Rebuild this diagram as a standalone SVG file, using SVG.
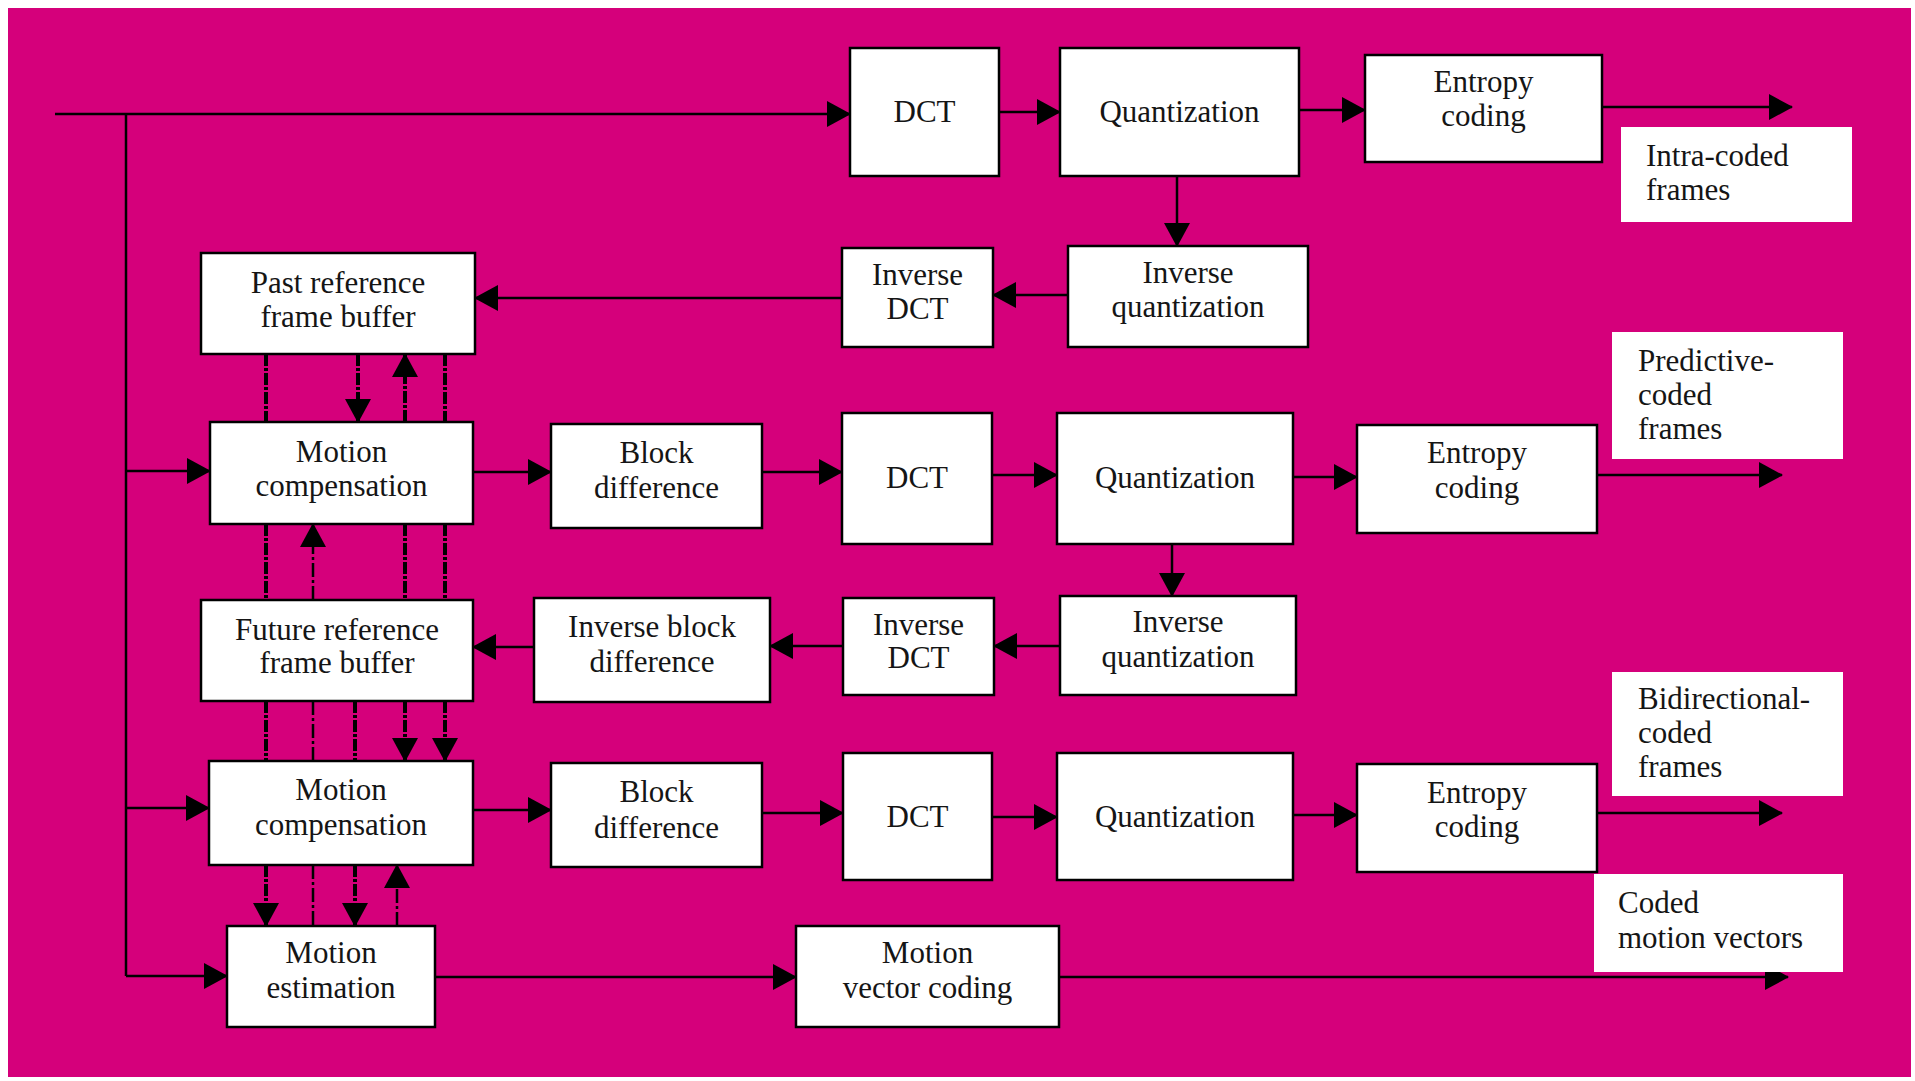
<svg xmlns="http://www.w3.org/2000/svg" width="1915" height="1081" viewBox="0 0 1915 1081">
  <defs>
    <marker id="arrow" markerUnits="userSpaceOnUse" markerWidth="24" markerHeight="26" viewBox="0 0 24 26" refX="23" refY="13" orient="auto">
      <path d="M0,0 L24,13 L0,26 z" fill="#000"/>
    </marker>
    <style>
      .box { fill: #fff; stroke: #000; stroke-width: 2.5; }
      .tag { fill: #fff; stroke: none; }
      .conn { fill: none; stroke: #000; stroke-width: 2.5; }
      .dd { fill: none; stroke: #000; stroke-width: 4; stroke-dasharray: 12 2 3 2; }
      .dt { fill: none; stroke: #000; stroke-width: 2.5; stroke-dasharray: 14 3 3 3; }
      .arr { marker-end: url(#arrow); }
      text { font-family: "Liberation Serif", "Times New Roman", serif; font-size: 31px; fill: #151515; }
      .c { text-anchor: middle; }
    </style>
  </defs>

  <!-- page -->
  <rect x="0" y="0" width="1915" height="1081" fill="#fff"/>
  <rect x="8" y="8" width="1903" height="1069" fill="#d5007b"/>

  <!-- connectors -->
  <g id="connectors">
    <!-- input bus -->
    <path class="conn arr" d="M55,114 H850"/>
    <path class="conn" d="M126,114 V976"/>
    <path class="conn arr" d="M126,471 H210"/>
    <path class="conn arr" d="M126,808 H209"/>
    <path class="conn arr" d="M126,976 H227"/>

    <!-- intra path -->
    <path class="conn arr" d="M999,112 H1060"/>
    <path class="conn arr" d="M1299,110 H1365"/>
    <path class="conn arr" d="M1602,107 H1792"/>
    <path class="conn arr" d="M1177,176 V246"/>
    <path class="conn arr" d="M1068,295 H993"/>
    <path class="conn arr" d="M842,298 H475"/>

    <!-- predictive path -->
    <path class="conn arr" d="M473,472 H551"/>
    <path class="conn arr" d="M762,472 H842"/>
    <path class="conn arr" d="M992,475 H1057"/>
    <path class="conn arr" d="M1293,477 H1357"/>
    <path class="conn arr" d="M1597,475 H1782"/>
    <path class="conn arr" d="M1172,544 V596"/>
    <path class="conn arr" d="M1060,646 H994"/>
    <path class="conn arr" d="M843,646 H770"/>
    <path class="conn arr" d="M534,647 H473"/>

    <!-- bidirectional path -->
    <path class="conn arr" d="M473,810 H551"/>
    <path class="conn arr" d="M762,813 H843"/>
    <path class="conn arr" d="M992,817 H1057"/>
    <path class="conn arr" d="M1293,815 H1357"/>
    <path class="conn arr" d="M1597,813 H1782"/>

    <!-- motion vectors -->
    <path class="conn arr" d="M435,977 H796"/>
    <path class="conn arr" d="M1059,977 H1788"/>

    <!-- past buffer <-> motion compensation (P) -->
    <path class="dd" d="M266,354 V422"/>
    <path class="dd arr" d="M358,354 V422"/>
    <path class="dd arr" d="M405,422 V354"/>
    <path class="dd" d="M445,354 V422"/>

    <!-- motion compensation (P) <-> future buffer -->
    <path class="dd" d="M266,524 V600"/>
    <path class="dt arr" d="M313,600 V524"/>
    <path class="dd" d="M405,524 V600"/>
    <path class="dd" d="M445,524 V600"/>

    <!-- future buffer -> motion compensation (B) -->
    <path class="dd" d="M266,701 V761"/>
    <path class="dt" d="M313,701 V761"/>
    <path class="dd" d="M355,701 V761"/>
    <path class="dd arr" d="M405,701 V761"/>
    <path class="dd arr" d="M445,701 V761"/>

    <!-- motion compensation (B) <-> motion estimation -->
    <path class="dd arr" d="M266,865 V926"/>
    <path class="dt" d="M313,865 V926"/>
    <path class="dd arr" d="M355,865 V926"/>
    <path class="dt arr" d="M397,926 V865"/>
  </g>

  <!-- intra-coded row -->
  <g id="dct1">
    <rect class="box" x="850" y="48" width="149" height="128"/>
    <text class="c" x="924.5" y="122">DCT</text>
  </g>
  <g id="quant1">
    <rect class="box" x="1060" y="48" width="239" height="128"/>
    <text class="c" x="1179.5" y="122">Quantization</text>
  </g>
  <g id="entropy1">
    <rect class="box" x="1365" y="55" width="237" height="107"/>
    <text class="c" x="1483.5" y="92">Entropy</text>
    <text class="c" x="1483.5" y="126">coding</text>
  </g>
  <g id="iquant1">
    <rect class="box" x="1068" y="246" width="240" height="101"/>
    <text class="c" x="1188" y="283">Inverse</text>
    <text class="c" x="1188" y="317">quantization</text>
  </g>
  <g id="idct1">
    <rect class="box" x="842" y="248" width="151" height="99"/>
    <text class="c" x="917.5" y="285">Inverse</text>
    <text class="c" x="917.5" y="319">DCT</text>
  </g>
  <g id="past-buffer">
    <rect class="box" x="201" y="253" width="274" height="101"/>
    <text class="c" x="338" y="293">Past reference</text>
    <text class="c" x="338" y="327">frame buffer</text>
  </g>

  <!-- predictive-coded row -->
  <g id="mc1">
    <rect class="box" x="210" y="422" width="263" height="102"/>
    <text class="c" x="341.5" y="462">Motion</text>
    <text class="c" x="341.5" y="496">compensation</text>
  </g>
  <g id="bd1">
    <rect class="box" x="551" y="424" width="211" height="104"/>
    <text class="c" x="656.5" y="463">Block</text>
    <text class="c" x="656.5" y="498">difference</text>
  </g>
  <g id="dct2">
    <rect class="box" x="842" y="413" width="150" height="131"/>
    <text class="c" x="917" y="488">DCT</text>
  </g>
  <g id="quant2">
    <rect class="box" x="1057" y="413" width="236" height="131"/>
    <text class="c" x="1175" y="488">Quantization</text>
  </g>
  <g id="entropy2">
    <rect class="box" x="1357" y="425" width="240" height="108"/>
    <text class="c" x="1477" y="463">Entropy</text>
    <text class="c" x="1477" y="498">coding</text>
  </g>
  <g id="iquant2">
    <rect class="box" x="1060" y="596" width="236" height="99"/>
    <text class="c" x="1178" y="632">Inverse</text>
    <text class="c" x="1178" y="667">quantization</text>
  </g>
  <g id="idct2">
    <rect class="box" x="843" y="598" width="151" height="97"/>
    <text class="c" x="918.5" y="635">Inverse</text>
    <text class="c" x="918.5" y="668">DCT</text>
  </g>
  <g id="ibd">
    <rect class="box" x="534" y="598" width="236" height="104"/>
    <text class="c" x="652" y="637">Inverse block</text>
    <text class="c" x="652" y="672">difference</text>
  </g>
  <g id="future-buffer">
    <rect class="box" x="201" y="600" width="272" height="101"/>
    <text class="c" x="337" y="640">Future reference</text>
    <text class="c" x="337" y="673">frame buffer</text>
  </g>

  <!-- bidirectional-coded row -->
  <g id="mc2">
    <rect class="box" x="209" y="761" width="264" height="104"/>
    <text class="c" x="341" y="800">Motion</text>
    <text class="c" x="341" y="835">compensation</text>
  </g>
  <g id="bd2">
    <rect class="box" x="551" y="763" width="211" height="104"/>
    <text class="c" x="656.5" y="802">Block</text>
    <text class="c" x="656.5" y="838">difference</text>
  </g>
  <g id="dct3">
    <rect class="box" x="843" y="753" width="149" height="127"/>
    <text class="c" x="917.5" y="827">DCT</text>
  </g>
  <g id="quant3">
    <rect class="box" x="1057" y="753" width="236" height="127"/>
    <text class="c" x="1175" y="827">Quantization</text>
  </g>
  <g id="entropy3">
    <rect class="box" x="1357" y="764" width="240" height="108"/>
    <text class="c" x="1477" y="803">Entropy</text>
    <text class="c" x="1477" y="837">coding</text>
  </g>

  <!-- motion estimation row -->
  <g id="me">
    <rect class="box" x="227" y="926" width="208" height="101"/>
    <text class="c" x="331" y="963">Motion</text>
    <text class="c" x="331" y="998">estimation</text>
  </g>
  <g id="mvc">
    <rect class="box" x="796" y="926" width="263" height="101"/>
    <text class="c" x="927.5" y="963">Motion</text>
    <text class="c" x="927.5" y="998">vector coding</text>
  </g>

  <!-- output captions -->
  <g id="label-intra">
    <rect class="tag" x="1621" y="127" width="231" height="95"/>
    <text x="1646" y="166">Intra-coded</text>
    <text x="1646" y="200">frames</text>
  </g>
  <g id="label-predictive">
    <rect class="tag" x="1612" y="332" width="231" height="127"/>
    <text x="1638" y="371">Predictive-</text>
    <text x="1638" y="405">coded</text>
    <text x="1638" y="439">frames</text>
  </g>
  <g id="label-bidirectional">
    <rect class="tag" x="1612" y="672" width="231" height="124"/>
    <text x="1638" y="709">Bidirectional-</text>
    <text x="1638" y="743">coded</text>
    <text x="1638" y="777">frames</text>
  </g>
  <g id="label-vectors">
    <rect class="tag" x="1594" y="874" width="249" height="98"/>
    <text x="1618" y="913">Coded</text>
    <text x="1618" y="948">motion vectors</text>
  </g>
</svg>
